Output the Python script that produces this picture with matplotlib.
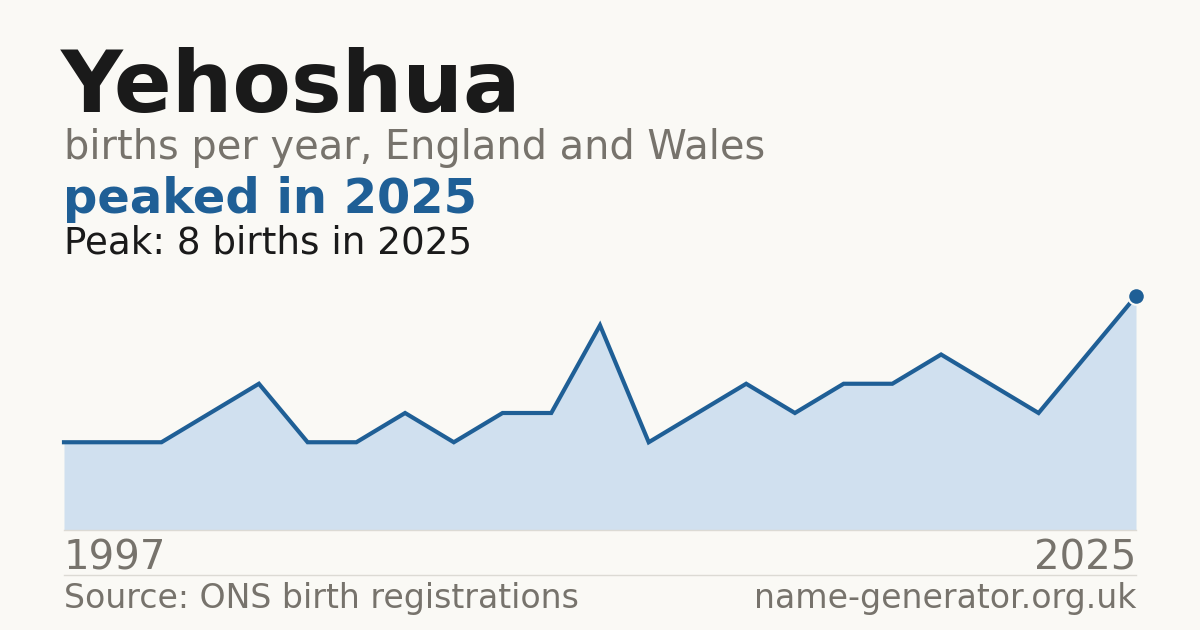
import numpy as np
import matplotlib
matplotlib.use("Agg")
import matplotlib.pyplot as plt

# births per year (points evenly spaced, first labelled 1997, last 2025)
births = [3, 3, 3, 4, 5, 3, 3, 4, 3, 4, 4, 7, 3, 4, 5, 4, 5, 5, 6, 5, 4, 6, 8]
first_year = "1997"
last_year = "2025"
name = "Yehoshua"
subtitle = "births per year, England and Wales"
headline = "peaked in 2025"
peak_text = "Peak: 8 births in 2025"
source = "Source: ONS birth registrations"
site = "name-generator.org.uk"

bg = "#faf9f5"
blue = "#1f5f96"
fill = "#d0e0ef"
grey = "#77736c"
ink = "#1a1a1a"
rule = "#dcdad4"

W, H = 1200, 630
fig = plt.figure(figsize=(12, 6.3), dpi=100, facecolor=bg)

def fx(px):
    return px / W

def fy(py):
    return 1 - py / H

ax = fig.add_axes([fx(64), fy(530), fx(1136) - fx(64), fy(296) - fy(530)])
ax.set_facecolor(bg)
x = np.arange(len(births))
ax.fill_between(x, births, 0, color=fill, lw=0)
ax.plot(x, births, color=blue, lw=3, solid_joinstyle="miter", clip_on=False)
ax.plot(x[-1], births[-1], "o", ms=12, color=blue, mec=bg, mew=1.5, clip_on=False)
ax.set_xlim(0, len(births) - 1)
ax.set_ylim(0, max(births))
ax.axis("off")

fig.add_artist(plt.Line2D([fx(64), fx(1136)], [fy(530), fy(530)], color=rule, lw=1))
fig.add_artist(plt.Line2D([fx(64), fx(1136)], [fy(574.5), fy(574.5)], color=rule, lw=1))

fig.text(fx(61), fy(112), name, fontsize=61.5, fontweight="bold", color=ink, va="baseline")
fig.text(fx(64), fy(159), subtitle, fontsize=28.7, color=grey, va="baseline")
fig.text(fx(63), fy(213), headline, fontsize=34.6, fontweight="bold", color=blue, va="baseline")
fig.text(fx(64), fy(253), peak_text, fontsize=26.8, color=ink, va="baseline")
fig.text(fx(64), fy(570), first_year, fontsize=29, color=grey, va="baseline")
fig.text(fx(1136), fy(570), last_year, fontsize=29, color=grey, va="baseline", ha="right")
fig.text(fx(64), fy(608), source, fontsize=23.9, color=grey, va="baseline")
fig.text(fx(1136), fy(608), site, fontsize=23.9, color=grey, va="baseline", ha="right")

fig.savefig("out.png", dpi=100, facecolor=bg)
